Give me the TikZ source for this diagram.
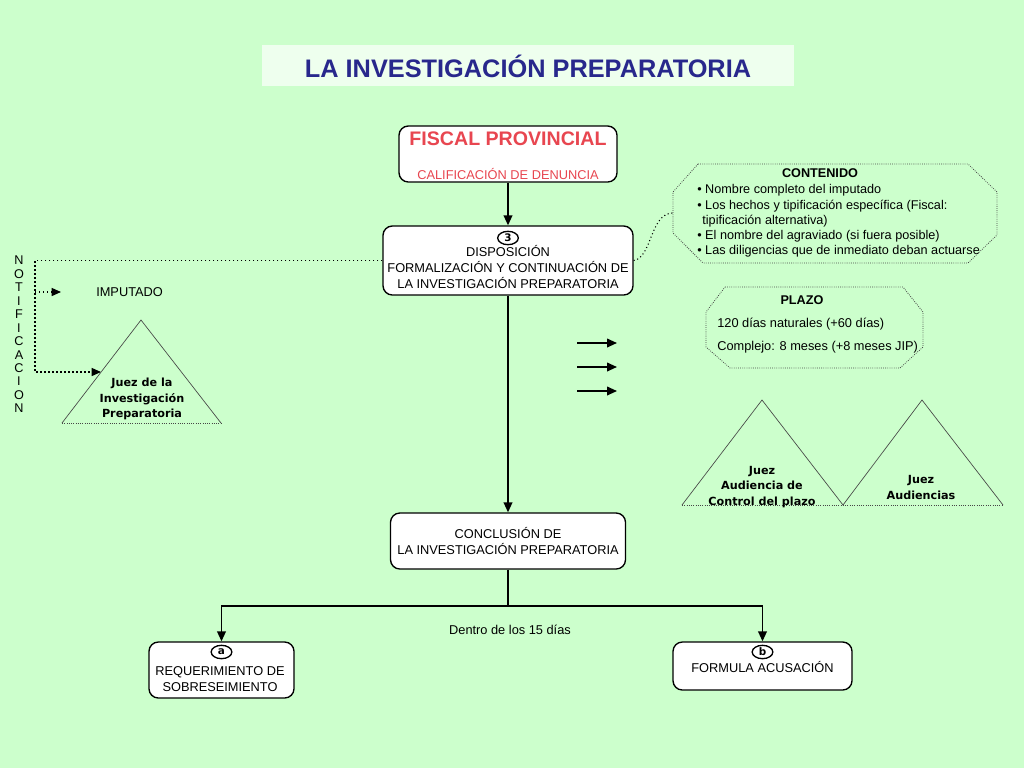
\documentclass[tikz,border=0pt]{standalone}
\usepackage{fontspec}
\setmainfont{Liberation Sans}
\newfontfamily\verd{DejaVu Sans}
\usetikzlibrary{arrows.meta,shapes.geometric}
\definecolor{bg}{RGB}{204,255,204}
\definecolor{titlebg}{RGB}{238,255,238}
\definecolor{navy}{RGB}{40,40,140}
\definecolor{redt}{RGB}{232,70,80}
\definecolor{lgray}{RGB}{70,70,70}
\begin{document}
\begin{tikzpicture}[x=0.75pt,y=-0.75pt,
  rbox/.style={draw=black, line width=1pt, fill=white, rounded corners=7pt, inner sep=0pt},
  txt/.style={font=\fontsize{9.6}{12}\selectfont, align=center, inner sep=0pt},
  jtxt/.style={font=\verd\bfseries\fontsize{8.4}{11.6}\selectfont, align=center, inner sep=0pt},
  circlab/.style={draw=black, line width=1pt, fill=white, ellipse, inner sep=0pt,
    minimum width=15.5pt, minimum height=10pt, font=\verd\bfseries\fontsize{7.8}{8}\selectfont},
  conn/.style={line width=1.3pt, -{Triangle[length=7.5pt,width=6.5pt]}},
  plain/.style={line width=1.3pt},
  dotconn/.style={line width=1pt, dotted, -{Triangle[length=7pt,width=6pt]}},
  dotline/.style={line width=0.8pt, dotted},
  octo/.style={line width=0.6pt, densely dotted, draw=lgray},
  triside/.style={line width=0.5pt, draw=lgray},
  tribase/.style={line width=0.7pt, densely dotted, draw=lgray}
]
\useasboundingbox (0,0) rectangle (1024,768);
\fill[bg] (0,0) rectangle (1024,768);

% title
\fill[titlebg] (262,45) rectangle (794,86);
\node[font=\bfseries\fontsize{19}{22}\selectfont, text=navy, inner sep=0pt] (title) at (528,66) {LA INVESTIGACIÓN PREPARATORIA};

% fiscal provincial
\node[rbox, minimum width=163.5pt, minimum height=42pt] (fiscal) at (508,154) {};
\node[font=\bfseries\fontsize{14.7}{16}\selectfont, text=redt, inner sep=0pt] (fiscalt) at (508,139) {FISCAL PROVINCIAL};
\node[txt, text=redt] (calif) at (508,174) {CALIFICACIÓN DE DENUNCIA};

% disposicion
\node[rbox, minimum width=187.5pt, minimum height=51.75pt] (disp) at (508,260.5) {};
\node[circlab] (c3) at (508,238) {3};
\node[txt] (dispt) at (508,267) {DISPOSICIÓN\\FORMALIZACIÓN Y CONTINUACIÓN DE\\LA INVESTIGACIÓN PREPARATORIA};

% conclusion
\node[rbox, minimum width=176.25pt, minimum height=42pt] (conc) at (508,541) {};
\node[txt] (conct) at (508,541.5) {CONCLUSIÓN DE\\LA INVESTIGACIÓN PREPARATORIA};

% box a
\node[rbox, minimum width=108.75pt, minimum height=42pt] (boxa) at (221.5,670) {};
\node[circlab] (ca) at (221.5,652) {a};
\node[txt] (boxat) at (220,679) {REQUERIMIENTO DE\\SOBRESEIMIENTO};

% box b
\node[rbox, minimum width=134.25pt, minimum height=36pt] (boxb) at (762.5,666) {};
\node[circlab] (cb) at (762.5,652) {b};
\node[txt] (boxbt) at (762.5,667) {FORMULA ACUSACIÓN};

\node[txt] (dentro) at (510,630) {Dentro de los 15 días};

% main connectors
\draw[conn] (fiscal.south) -- (disp.north);
\draw[conn] (disp.south) -- (conc.north);
\coordinate (split) at (508,606);
\draw[plain] (conc.south) -- (split);
\draw[conn] (split) -| (boxa.north);
\draw[conn] (split) -| (boxb.north);

% notification
\node[font=\fontsize{9.5}{10.1}\selectfont, align=center, inner sep=0pt] (notif) at (19,334.5)
  {N\\O\\T\\I\\F\\I\\C\\A\\C\\I\\O\\N};
\coordinate (n1) at (35,260.5);
\coordinate (n2) at (35,372);
\coordinate (n3) at (35,292);
\coordinate (triarr) at (101,372);
\coordinate (imparr) at (61,292);
\draw[dotconn] (disp.west) -- (n1) -- (n2) -- (triarr);
\draw[dotconn] (n3) -- (imparr);
\node[txt, anchor=west] (imp) at (96,292) {IMPUTADO};

% left triangle
\draw[triside] (62,423) -- (141,320) -- (221,423);
\draw[tribase] (62,423) -- (221,423);
\node[jtxt] (jip) at (142,399) {Juez de la\\Investigación\\Preparatoria};

% right triangles
\draw[triside] (682,505) -- (762,400) -- (843,505) -- (922,400) -- (1003,505);
\draw[tribase] (682,505) -- (1003,505);
\node[jtxt] (jcp) at (762,487) {Juez\\Audiencia de\\Control del plazo};
\node[jtxt] (jau) at (921,487.5) {Juez\\Audiencias};

% contenido octagon
\draw[octo] (698,164) -- (968,164) -- (997,192) -- (997,235) -- (968,263) -- (703,263) -- (673,233) -- (673,192) -- cycle;
\coordinate (contL) at (673,213);
\draw[dotline] (disp.east) .. controls (652,258) and (650,213) .. (contL);
\node[font=\bfseries\fontsize{9.5}{11}\selectfont, inner sep=0pt] (conth) at (820,173) {CONTENIDO};
\node[font=\fontsize{9.5}{11.4}\selectfont, align=left, inner sep=0pt, anchor=west] (contl) at (697,221)
  {• Nombre completo del imputado\\
   • Los hechos y tipificación específica (Fiscal:\\
   \phantom{•}\hspace{0.5pt}tipificación alternativa)\\
   • El nombre del agraviado (si fuera posible)\\
   • Las diligencias que de inmediato deban actuarse};

% plazo octagon
\draw[octo] (725,287) -- (903,287) -- (923,312) -- (923,347) -- (900,368) -- (730,368) -- (706,347) -- (706,312) -- cycle;
\node[font=\bfseries\fontsize{9.5}{11}\selectfont, inner sep=0pt] (plazoh) at (802,300) {PLAZO};
\node[txt, anchor=west] (pl1) at (717,324) {120 días naturales (+60 días)};
\node[txt, anchor=west] (pl2) at (717,347) {Complejo: 8 meses (+8 meses JIP)};

% three arrows
\coordinate (a1s) at (577,343); \coordinate (a1e) at (617,343);
\coordinate (a2s) at (577,367); \coordinate (a2e) at (617,367);
\coordinate (a3s) at (577,391); \coordinate (a3e) at (617,391);
\draw[conn] (a1s) -- (a1e);
\draw[conn] (a2s) -- (a2e);
\draw[conn] (a3s) -- (a3e);
\end{tikzpicture}
\end{document}
